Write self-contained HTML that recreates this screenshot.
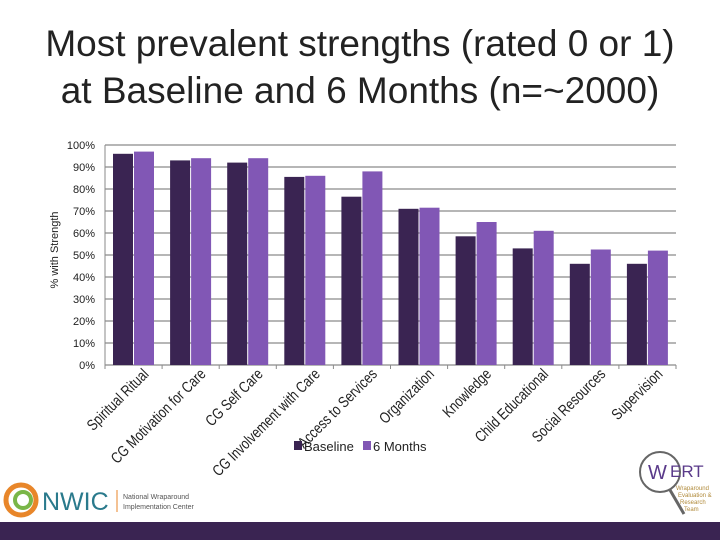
<!DOCTYPE html>
<html><head><meta charset="utf-8"><style>
body{margin:0;background:#fff;}
#wrap{position:relative;width:720px;height:540px;overflow:hidden;font-family:"Liberation Sans",sans-serif;}
.title{position:absolute;left:0;width:720px;text-align:center;font-size:37px;color:#222;line-height:47px;}
</style></head><body>
<div id="wrap">
<div class="title" style="top:20px">Most prevalent strengths (rated 0 or 1)<br>at Baseline and 6 Months (n=~2000)</div>
<svg id="chart" width="720" height="540" style="position:absolute;left:0;top:0"></svg>
<div style="position:absolute;left:0;top:522px;width:720px;height:18px;background:#3a2452"></div>
</div>
<script>
const categories=["Spiritual Ritual","CG Motivation for Care","CG Self Care","CG Involvement with Care","Access to Services","Organization","Knowledge","Child Educational","Social Resources","Supervision"];
const baseline=[96,93,92,85.5,76.5,71,58.5,53,46,46];
const months6=[97,94,94,86,88,71.5,65,61,52.5,52];
const yTicks=[0,10,20,30,40,50,60,70,80,90,100];
const NS="http://www.w3.org/2000/svg";
const svg=document.getElementById('chart');
const X0=105,X1=676,Y0=365,Y1=145;
const bw=(X1-X0)/categories.length;
function y(v){return Y0-(v/100)*(Y0-Y1);}
function xc(i){return X0+bw*i;}
function mk(t,a,txt){const e=document.createElementNS(NS,t);for(const k in a)e.setAttribute(k,a[k]);if(txt!==undefined)e.textContent=txt;svg.appendChild(e);return e;}
yTicks.forEach(t=>{
 const l=mk('line',{x1:X0,x2:X1,y1:y(t),y2:y(t),stroke:'#8a8a8a','stroke-width':1.2});
 
 
 const tx=mk('text',{x:95,y:y(t)+4,'text-anchor':'end','font-size':11,fill:'#222'},t+'%');
 
 
});
mk('line',{x1:X0,x2:X0,y1:Y1,y2:Y0,stroke:'#8a8a8a'});
const yt=mk('text',{transform:'translate(58,250) rotate(-90)','text-anchor':'middle','font-size':11,fill:'#222'},'% with Strength');


categories.forEach((c,i)=>{
 const x=xc(i);
 mk('line',{x1:x,x2:x,y1:Y0,y2:Y0+4,stroke:'#8a8a8a'});
 const b=mk('rect',{x:x+8,y:y(baseline[i]),width:20,height:Y0-y(baseline[i]),fill:'#3a2452'});
 
 
 const m=mk('rect',{x:x+29,y:y(months6[i]),width:20,height:Y0-y(months6[i]),fill:'#8157b5'});
 
 
 const lb=mk('text',{transform:`translate(${x+bw/2+16},375) rotate(-45) scale(0.8,1)`,'text-anchor':'end','font-size':15.5,fill:'#222'},c);
 
 
});
mk('line',{x1:X1,x2:X1,y1:Y0,y2:Y0+4,stroke:'#8a8a8a'});
const lg1=mk('rect',{x:294,y:441,width:8,height:9,fill:'#3a2452'});


const lt1=mk('text',{x:304,y:451,'font-size':13,fill:'#222'},'Baseline');


const lg2=mk('rect',{x:363,y:441,width:8,height:9,fill:'#8157b5'});


const lt2=mk('text',{x:373,y:451,'font-size':13,fill:'#222'},'6 Months');


// NWIC logo
const g1=mk('circle',{cx:21,cy:500,r:15,fill:'none',stroke:'#e8862a','stroke-width':5});


mk('circle',{cx:23,cy:500,r:8,fill:'none',stroke:'#7ab648','stroke-width':4});
const nw=mk('text',{x:42,y:510,'font-size':25,fill:'#2a7a8c'},'NWIC');


mk('line',{x1:117,x2:117,y1:490,y2:512,stroke:'#e8862a'});
mk('text',{x:123,y:499,'font-size':7,fill:'#555'},'National Wraparound');
mk('text',{x:123,y:509,'font-size':7,fill:'#555'},'Implementation Center');
// WERT logo
const wc=mk('circle',{cx:660,cy:472,r:20,fill:'none',stroke:'#666','stroke-width':2});


mk('line',{x1:670,x2:684,y1:490,y2:514,stroke:'#666','stroke-width':3});
mk('text',{x:648,y:479,'font-size':20,fill:'#5a3a8a'},'W');
mk('text',{x:670,y:477,'font-size':17,fill:'#5a3a8a'},'ERT');
mk('text',{x:676,y:490,'font-size':6,fill:'#b08a3a'},'Wraparound');
mk('text',{x:678,y:497,'font-size':6,fill:'#b08a3a'},'Evaluation &');
mk('text',{x:680,y:504,'font-size':6,fill:'#b08a3a'},'Research');
mk('text',{x:684,y:511,'font-size':6,fill:'#b08a3a'},'Team');
</script>
</body></html>
